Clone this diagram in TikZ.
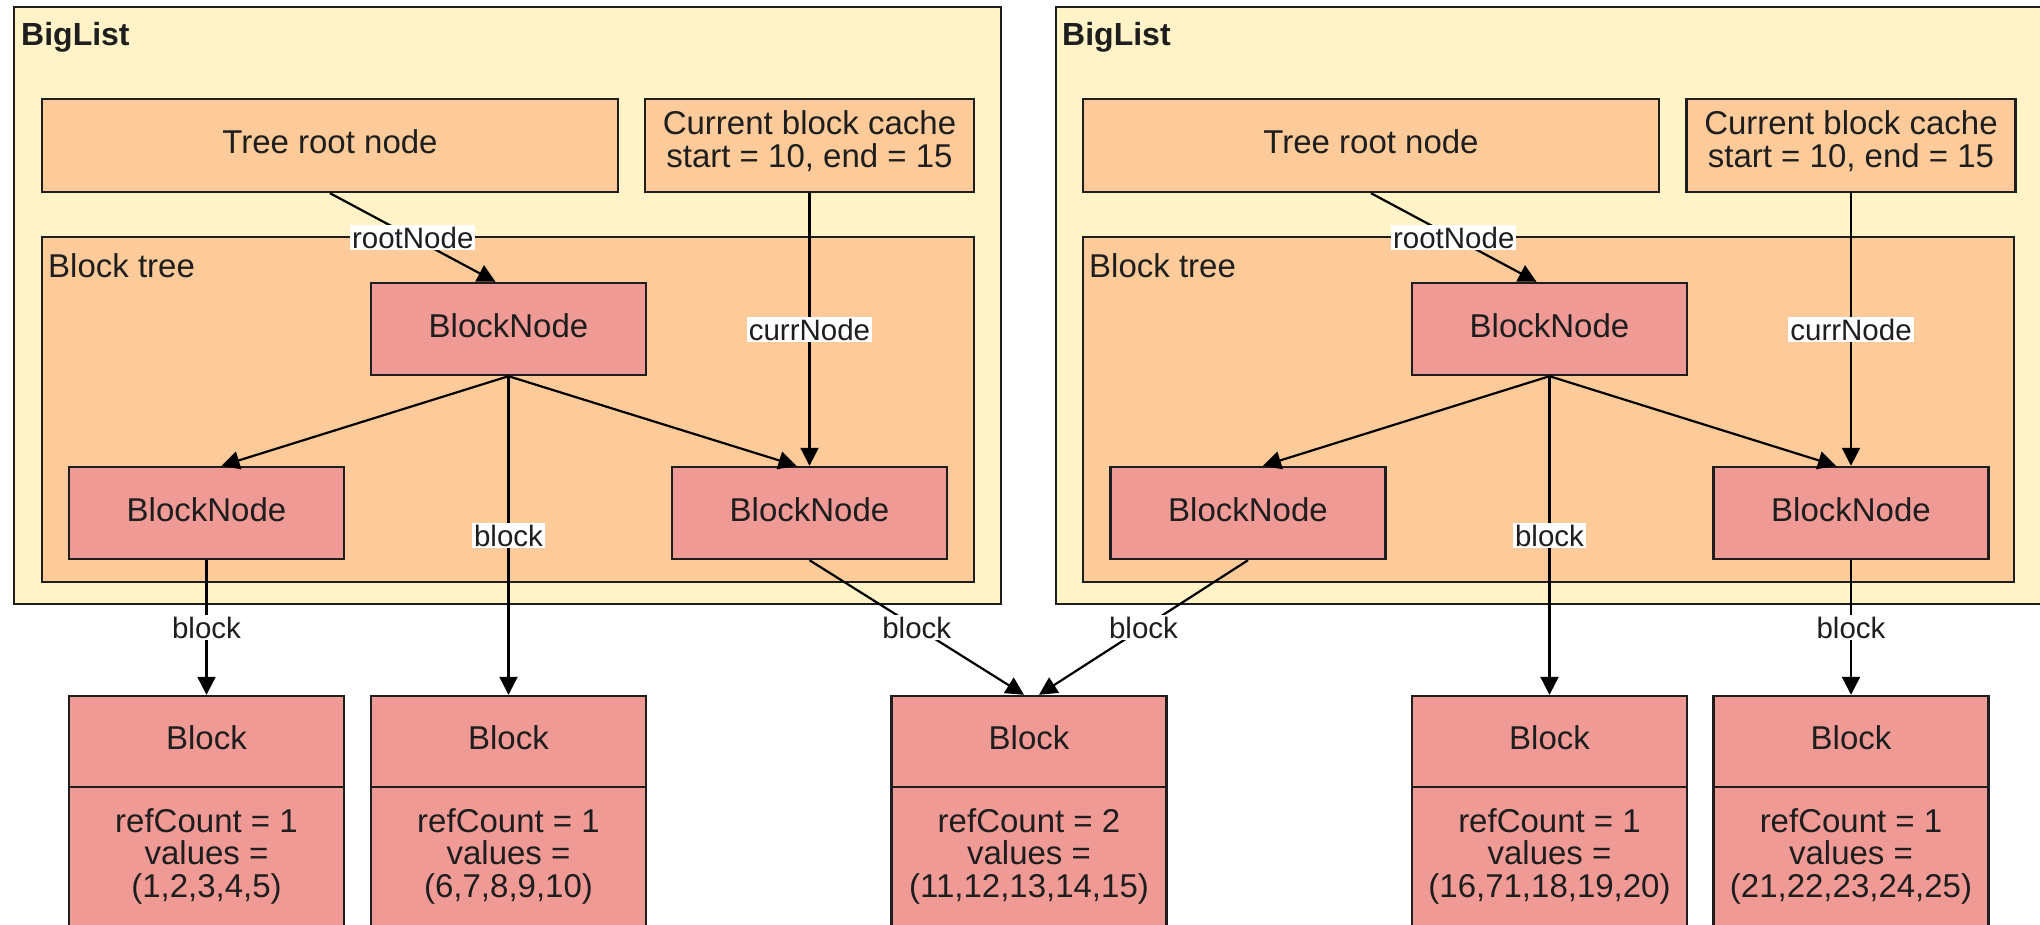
\documentclass[tikz,border=0pt]{standalone}
\usepackage{fontspec}
\setmainfont{Liberation Sans}
\usetikzlibrary{arrows.meta}

\definecolor{listfill}{HTML}{FFF3C7}
\definecolor{peach}{HTML}{FDCB99}
\definecolor{salmon}{HTML}{F09A96}
\definecolor{ink}{HTML}{1E1E1E}

\newcommand\boxfont{\fontsize{33}{32.5}\selectfont}
\newcommand\tagfont{\fontsize{29.5}{32}\selectfont}
\newcommand\headfont{\fontsize{32}{35}\selectfont\bfseries}

\tikzset{
  box/.style={draw=ink, line width=2.4pt, rectangle, inner sep=0pt, text=ink,
              align=center, font=\boxfont},
  oneline/.style={text height=24pt, text depth=8pt},
  listbox/.style={box, fill=listfill},
  partbox/.style={box, fill=peach},
  nodebox/.style={box, oneline, fill=salmon, minimum width=275pt, minimum height=92pt},
  blocktitle/.style={box, oneline, fill=salmon, minimum width=275pt, minimum height=91pt},
  blockbody/.style={box, fill=salmon, minimum width=275pt, minimum height=173pt},
  boxtext/.style={text=ink, align=center, font=\boxfont, inner sep=0pt},
  tag/.style={fill=white, inner sep=2pt, text=ink, font=\tagfont},
  heading/.style={anchor=west, inner sep=0pt, text=ink},
  link/.style={line width=2.2pt, draw=black, -{Triangle[length=18pt,width=18pt]}},
}

\begin{document}
\begin{tikzpicture}[x=1pt,y=-1pt]
\useasboundingbox (0,0) rectangle (2040,924);
\clip (0,0) rectangle (2040,924);

% ---------- first BigList ----------
\node[listbox, minimum width=987pt, minimum height=597pt] (lst1) at (507.5,305.5) {};
\node[heading] (lst1h) at (21,37) {\headfont BigList};
\node[partbox, oneline, minimum width=576pt, minimum height=93pt] (root1) at (330,145.5) {Tree root node};
\node[partbox, minimum width=329pt, minimum height=93pt] (cache1) at (809.5,145.5) {};
\node[boxtext] (cache1text) at (809.5,141) {Current block cache\\start = 10, end = 15};
\node[partbox, minimum width=932pt, minimum height=345pt] (tree1) at (508,409.5) {};
\node[heading, font=\boxfont] (tree1h) at (48,266) {Block tree};
\node[nodebox] (top1) at (508.5,329) {BlockNode};
\node[nodebox] (lft1) at (206.5,513) {BlockNode};
\node[nodebox] (rgt1) at (809.5,513) {BlockNode};

% ---------- second BigList ----------
\node[listbox, minimum width=1024pt, minimum height=597pt] (lst2) at (1568,305.5) {};
\node[heading] (lst2h) at (1062,37) {\headfont BigList};
\node[partbox, oneline, minimum width=576pt, minimum height=93pt] (root2) at (1371,145.5) {Tree root node};
\node[partbox, minimum width=329pt, minimum height=93pt] (cache2) at (1851,145.5) {};
\node[boxtext] (cache2text) at (1851,141) {Current block cache\\start = 10, end = 15};
\node[partbox, minimum width=931pt, minimum height=345pt] (tree2) at (1548.5,409.5) {};
\node[heading, font=\boxfont] (tree2h) at (1089,266) {Block tree};
\node[nodebox] (top2) at (1549.5,329) {BlockNode};
\node[nodebox] (lft2) at (1248,513) {BlockNode};
\node[nodebox] (rgt2) at (1851,513) {BlockNode};

% ---------- blocks ----------
\foreach \n/\x/\rc/\vals in {
    b1/206.5/1/{(1,2,3,4,5)},
    b2/508.5/1/{(6,7,8,9,10)},
    b3/1029/2/{(11,12,13,14,15)},
    b4/1549.5/1/{(16,71,18,19,20)},
    b5/1851/1/{(21,22,23,24,25)}} {
  \node[blocktitle] (\n) at (\x,741.5) {Block};
  \node[blockbody] (\n body) at (\x,873.5) {};
  \node[boxtext] (\n text) at (\x,856) {refCount = \rc\\values =\\\vals};
}

% ---------- references, first list ----------
\draw[link] (cache1.south) -- node[tag] {currNode} (rgt1.north);
\draw[link] (root1.south) -- node[tag] {rootNode} ([xshift=-13pt]top1.north);
\draw[link] (top1.south) -- ([xshift=15pt]lft1.north);
\draw[link] (top1.south) -- ([xshift=-13pt]rgt1.north);
\draw[link] (top1.south) -- node[tag] {block} (b2.north);
\draw[link] (lft1.south) -- node[tag] {block} (b1.north);
\draw[link] (rgt1.south) -- node[tag] {block} ([xshift=-5pt]b3.north);

% ---------- references, second list ----------
\draw[link] (cache2.south) -- node[tag] {currNode} (rgt2.north);
\draw[link] (root2.south) -- node[tag] {rootNode} ([xshift=-13pt]top2.north);
\draw[link] (top2.south) -- ([xshift=15pt]lft2.north);
\draw[link] (top2.south) -- ([xshift=-15pt]rgt2.north);
\draw[link] (top2.south) -- node[tag] {block} (b4.north);
\draw[link] (rgt2.south) -- node[tag] {block} (b5.north);
\draw[link] (lft2.south) -- node[tag] {block} ([xshift=10pt]b3.north);
\end{tikzpicture}
\end{document}
